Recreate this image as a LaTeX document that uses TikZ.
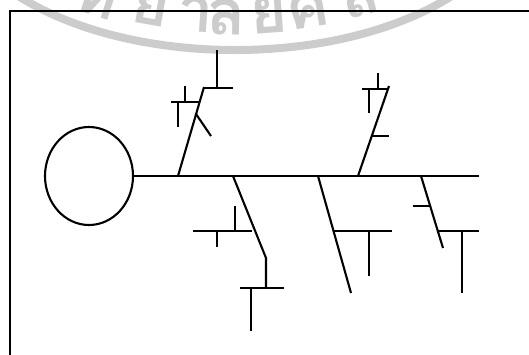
\documentclass[tikz,border=0pt]{standalone}
\usepackage{fontspec}
\usetikzlibrary{shapes.geometric}
\newfontfamily\thaifont[Script=Thai]{Loma}
\begin{document}
\begin{tikzpicture}[x=1pt,y=-1pt,
  bone/.style={line width=2.1pt, line cap=butt},
  frameline/.style={line width=2.8pt},
  wmark/.style={draw=black!20, line width=8pt},
  wtext/.style={text=black!20, font=\thaifont\bfseries\fontsize{64}{64}\selectfont, anchor=base, inner sep=0pt},
  headshape/.style={ellipse, draw, line width=2.1pt, minimum width=88pt, minimum height=98pt, inner sep=0pt}]
\useasboundingbox (0,0) rectangle (529,354);
\begin{scope}
\clip (0,0) rectangle (529,354);
% watermark
\draw[wmark] (235,-100) ellipse [x radius=282, y radius=150];
\node[wtext, rotate=-18] (w1) at (92,15) {ท};
\node[wtext, rotate=-10] (w2) at (148,25) {ย};
\node[wtext, rotate=-4] (w3) at (194,32) {า};
\node[wtext, rotate=-1] (w4) at (226,35) {ลั};
\node[wtext, rotate=4] (w5) at (270,33) {ย};
\node[wtext, rotate=9] (w6) at (312,27) {ศิ};
\node[wtext, rotate=15] (w7) at (364,15) {ล};
% frame
\coordinate (fbl) at (10,360);
\coordinate (ftl) at (10,11);
\coordinate (ftr) at (540,11);
\draw[frameline] (fbl) -- (ftl) -- (ftr);
\end{scope}
% head and spine
\node[headshape] (head) at (89,176) {};
\coordinate (tail) at (479,176);
\draw[bone] (head.east) -- (tail);
% branch 1 (top left)
\coordinate (b1s) at (178,176); \coordinate (b1e) at (204,87);
\draw[bone] (b1s) -- (b1e);
\coordinate (b1a) at (233,88); \coordinate (b1b) at (217,88); \coordinate (b1c) at (217,50);
\draw[bone] (b1e |- b1a) -- (b1a);
\draw[bone] (b1b) -- (b1c);
\coordinate (b1d) at (171,102); \coordinate (b1f) at (199,102);
\draw[bone] (b1d) -- (b1f);
\coordinate (b1g) at (185,86); \coordinate (b1h) at (185,102);
\draw[bone] (b1g) -- (b1h);
\coordinate (b1i) at (178,102); \coordinate (b1j) at (178,127);
\draw[bone] (b1i) -- (b1j);
\coordinate (b1k) at (196,114); \coordinate (b1l) at (211,136);
\draw[bone] (b1k) -- (b1l);
% branch 2 (top right)
\coordinate (b2s) at (358,176); \coordinate (b2e) at (389,86);
\draw[bone] (b2s) -- (b2e);
\coordinate (b2a) at (362,89); \coordinate (b2b) at (389,89);
\draw[bone] (b2a) -- (b2b);
\coordinate (b2c) at (378,73); \coordinate (b2d) at (378,89);
\draw[bone] (b2c) -- (b2d);
\coordinate (b2f) at (369,89); \coordinate (b2g) at (369,113);
\draw[bone] (b2f) -- (b2g);
\coordinate (b2h) at (372,136); \coordinate (b2i) at (389,136);
\draw[bone] (b2h) -- (b2i);
% branch 3 (bottom left)
\coordinate (b3s) at (233,176); \coordinate (b3m) at (266,258); \coordinate (b3e) at (266,288);
\draw[bone] (b3s) -- (b3m) -- (b3e);
\coordinate (b3a) at (240,288); \coordinate (b3b) at (284,288);
\draw[bone] (b3a) -- (b3b);
\coordinate (b3c) at (251,288); \coordinate (b3d) at (251,331);
\draw[bone] (b3c) -- (b3d);
\coordinate (b3f) at (193,231); \coordinate (b3g) at (252,231);
\draw[bone] (b3f) -- (b3g);
\coordinate (b3h) at (235,206); \coordinate (b3i) at (235,231);
\draw[bone] (b3h) -- (b3i);
\coordinate (b3j) at (217,231); \coordinate (b3k) at (217,247);
\draw[bone] (b3j) -- (b3k);
% branch 4 (bottom middle)
\coordinate (b4s) at (318,176); \coordinate (b4e) at (351,293);
\draw[bone] (b4s) -- (b4e);
\coordinate (b4a) at (334,231); \coordinate (b4b) at (392,231);
\draw[bone] (b4a) -- (b4b);
\coordinate (b4c) at (369,231); \coordinate (b4d) at (369,276);
\draw[bone] (b4c) -- (b4d);
% branch 5 (bottom right)
\coordinate (b5s) at (421,176); \coordinate (b5e) at (443,248);
\draw[bone] (b5s) -- (b5e);
\coordinate (b5a) at (413,206); \coordinate (b5b) at (430,206);
\draw[bone] (b5a) -- (b5b);
\coordinate (b5c) at (438,231); \coordinate (b5d) at (479,231);
\draw[bone] (b5c) -- (b5d);
\coordinate (b5f) at (462,231); \coordinate (b5g) at (462,293);
\draw[bone] (b5f) -- (b5g);
\end{tikzpicture}
\end{document}
